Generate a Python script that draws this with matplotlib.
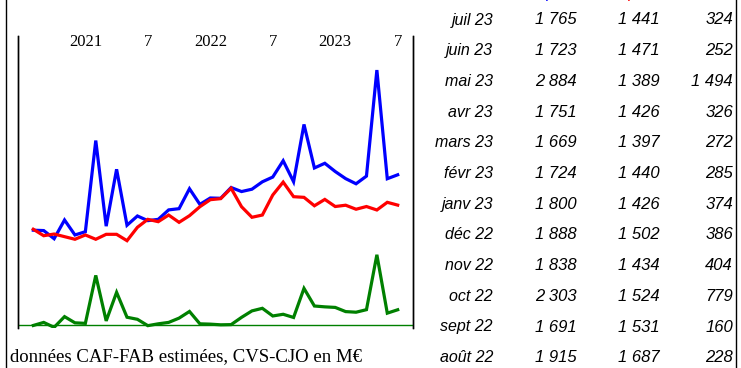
import matplotlib
matplotlib.use("Agg")
import matplotlib.pyplot as plt
from matplotlib.lines import Line2D
import numpy as np

# Monthly series, Aug 2020 .. Jul 2023 (M€)
exports = [1173, 1169, 1082, 1282, 1122, 1157, 2131, 1216, 1824, 1226, 1325, 1275,
           1289, 1390, 1403, 1616, 1449, 1517, 1514, 1629, 1586, 1611, 1690, 1741,
           1915, 1691, 2303, 1838, 1888, 1800, 1724, 1669, 1751, 2884, 1723, 1765]
imports = [1183, 1114, 1132, 1104, 1076, 1122, 1076, 1129, 1129, 1061, 1204, 1289,
           1264, 1335, 1257, 1328, 1424, 1499, 1510, 1621, 1424, 1311, 1335, 1549,
           1687, 1531, 1524, 1434, 1502, 1426, 1440, 1397, 1426, 1389, 1471, 1441]
solde = [-10, 55, -50, 178, 46, 35, 1055, 87, 695, 165, 121, -14,
         25, 55, 146, 288, 25, 18, 4, 8, 162, 300, 355, 192,
         228, 160, 779, 404, 386, 374, 285, 272, 326, 1494, 252, 324]

tick_idx = [5, 11, 17, 23, 29, 35]
tick_labels = ["2021", "7", "2022", "7", "2023", "7"]

table_months = ["août 22", "sept 22", "oct 22", "nov 22", "déc 22", "janv 23",
                "févr 23", "mars 23", "avr 23", "mai 23", "juin 23", "juil 23"]

W, H = 741, 368
fig = plt.figure(figsize=(W / 100, H / 100), dpi=100)

ax = fig.add_axes([18 / W, 1 - 328 / H, (413 - 18) / W, (328 - 36) / H])
ax2 = ax.twinx()

x = np.arange(len(exports))
ax.plot(x, exports, color="#0000ff", lw=2.3, solid_joinstyle="miter")
ax.plot(x, imports, color="#ff0000", lw=2.3, solid_joinstyle="miter")
ax2.plot(x, solde, color="#008000", lw=2.3, solid_joinstyle="miter")
ax2.axhline(0, color="#008000", lw=1.0)

ax.set_xlim(-1.47, 36.47)
ax.set_ylim(128, 3248)
ax2.set_ylim(-64, 6149)

for a in (ax, ax2):
    a.set_yticks([])
    for s in ("top", "bottom"):
        a.spines[s].set_visible(False)
    a.spines["left"].set_linewidth(1.0)
    a.spines["right"].set_linewidth(1.0)
    a.patch.set_visible(False)

ax.xaxis.tick_top()
ax.set_xticks(tick_idx)
ax.set_xticklabels(tick_labels, fontfamily="Liberation Serif", fontsize=12)
ax.tick_params(axis="x", length=0, pad=-10)

# Outer frame lines
fig.add_artist(Line2D([5.5 / W, 5.5 / W], [0, 1], color="black", lw=1.0))
fig.add_artist(Line2D([736 / W, 736 / W], [0, 1], color="black", lw=1.0))

# Column headers, cut off at the top edge as in the reference (only descenders show)
fig.text(556 / W, 1 - 1.0 / H, "Exports", color="#0000ff", ha="center", va="bottom",
         fontfamily="Liberation Sans", fontstyle="italic", fontsize=12)
fig.text(638 / W, 1 - 1.0 / H, "Imports", color="#ff0000", ha="center", va="bottom",
         fontfamily="Liberation Sans", fontstyle="italic", fontsize=12)

def fmt(v):
    return f"{v:,}".replace(",", " ")

n = len(exports)
row_y0 = 20.0
row_dy = 30.7
for r in range(12):
    k = n - 1 - r
    yy = 1 - (row_y0 + r * row_dy) / H
    kw = dict(va="center", fontfamily="Liberation Sans", fontstyle="italic", color="black")
    fig.text(493 / W, yy, table_months[k - (n - 12)], ha="right", fontsize=11.5, **kw)
    fig.text(577 / W, yy, fmt(exports[k]), ha="right", fontsize=12, **kw)
    fig.text(660 / W, yy, fmt(imports[k]), ha="right", fontsize=12, **kw)
    fig.text(733 / W, yy, fmt(solde[k]), ha="right", fontsize=12, **kw)

fig.text(10 / W, 1 - 357 / H, "données CAF-FAB estimées, CVS-CJO en M€",
         ha="left", va="center", fontfamily="Liberation Serif", fontsize=13.5)

fig.savefig("out.png", dpi=100)
